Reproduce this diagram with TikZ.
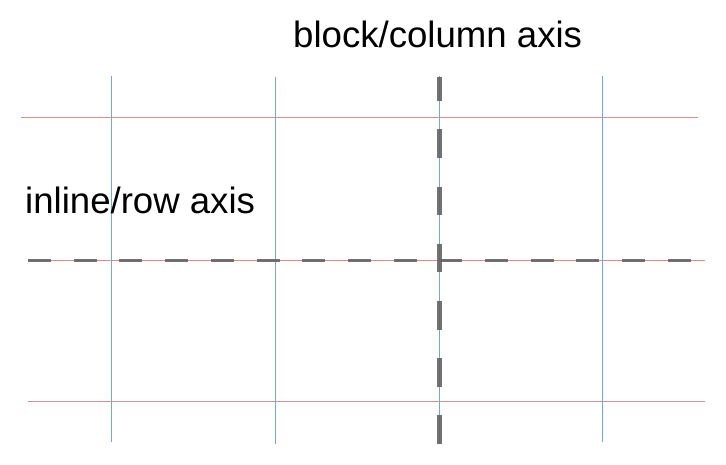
\documentclass[tikz,border=0pt]{standalone}
\usepackage{fontspec}
\setmainfont{Liberation Sans}
\definecolor{rowline}{RGB}{222,140,135}
\definecolor{colline}{RGB}{120,165,215}
\definecolor{axisgray}{RGB}{100,100,100}
\begin{document}
\begin{tikzpicture}[x=1pt,y=-1pt,every node/.style={font=\fontsize{36.6}{40}\selectfont,inner sep=0pt}]
\useasboundingbox (0,0) rectangle (726,464);
% grid tracks: rows in red, columns in blue
\draw[rowline,line width=1pt] (21,117) -- (698,117);
\foreach \y in {260,401} {\draw[rowline,line width=1pt] (28,\y) -- (705,\y);}
\draw[colline,line width=1pt] (111,76) -- (111,441.7);
\draw[colline,line width=1pt] (275,77) -- (275,444);
\draw[colline,line width=1pt] (439.3,76) -- (439.3,444);
\draw[colline,line width=1pt] (602.3,76) -- (602.3,441.7);
% the two axes
\draw[axisgray,opacity=0.9,line width=3pt,dash pattern=on 23pt off 22.7pt] (28,260) -- (705,260);
\draw[axisgray,opacity=0.9,line width=5pt,dash pattern=on 28.5pt off 28.7pt,dash phase=4.5pt] (439.3,76.7) -- (439.3,444);
\node[anchor=base west] (blocklbl) at (293,47.7) {block/column axis};
\node[anchor=base west] (inlinelbl) at (25,213.3) {inline/row axis};
\end{tikzpicture}
\end{document}
